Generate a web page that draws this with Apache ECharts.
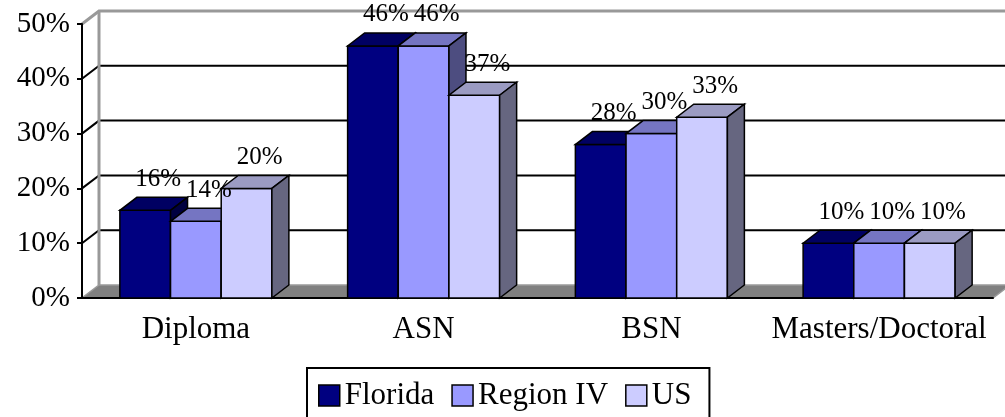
<!DOCTYPE html>
<html>
<head>
<meta charset="utf-8">
<script src="https://cdn.jsdelivr.net/npm/echarts@6/dist/echarts.min.js"></script>
<style>
html,body{margin:0;padding:0;background:#fff;}
#chart{width:1005px;height:417px;}
</style>
</head>
<body>
<div id="chart"></div>
<script>
// ---- data ----
const categories = ['Diploma', 'ASN', 'BSN', 'Masters/Doctoral'];
const seriesNames = ['Florida', 'Region IV', 'US'];
const florida = [16, 46, 28, 10];
const regionIV = [14, 46, 30, 10];
const us = [20, 37, 33, 10];
const yTicks = [0, 10, 20, 30, 40, 50];

// ---- styling ----
const FONT = "'Liberation Serif', 'Times New Roman', serif";
const DX = 17, DY = -13; // 3D depth offset
const faceColors = [
  { front: '#000080', top: '#000062', side: '#000040' },
  { front: '#9999FF', top: '#7575C2', side: '#4D4D80' },
  { front: '#CCCCFF', top: '#9B9BC2', side: '#666680' }
];
const Y_MAX = yTicks[yTicks.length - 1];

function wallItem(params, api) {
  const v = api.value(1);
  const cs = params.coordSys;
  const xl = cs.x, xr = cs.x + cs.width;
  const y = api.coord([0, v])[1];
  const y0 = api.coord([0, 0])[1];
  const children = [];
  if (v === 0) {
    children.push({
      type: 'polygon',
      shape: { points: [[xl, y], [xr, y], [xr + DX, y + DY], [xl + DX, y + DY]] },
      style: { fill: '#808080', stroke: '#9a9a9a', lineWidth: 1.5 }
    });
  } else {
    const isTop = v === Y_MAX;
    children.push({
      type: 'polyline',
      shape: { points: [[xl, y], [xl + DX, y + DY], [xr + DX + 5, y + DY]] },
      style: { fill: null, stroke: isTop ? '#999999' : '#000000', lineWidth: isTop ? 3 : 2 }
    });
    if (isTop) {
      children.push({
        type: 'line',
        shape: { x1: xl + DX, y1: y + DY, x2: xl + DX, y2: y0 + DY },
        style: { stroke: '#999999', lineWidth: 3 }
      });
    }
  }
  return { type: 'group', children: children };
}

function makeBarRender(k) {
  return function (params, api) {
    const ci = api.value(0), v = api.value(1);
    const base = api.coord([ci, 0]);
    const top = api.coord([ci, v]);
    const band = api.size([1, 0])[0];
    const bw = band * 0.2225;
    const x0 = base[0] - 1.5 * bw + k * bw;
    const x1 = x0 + bw;
    const yb = base[1], yt = top[1];
    const c = faceColors[k];
    const st = { stroke: '#000', lineWidth: 1.5, lineJoin: 'miter' };
    return {
      type: 'group',
      children: [
        { type: 'rect', shape: { x: x0, y: yt, width: bw, height: yb - yt },
          style: Object.assign({ fill: c.front }, st) },
        { type: 'polygon', shape: { points: [[x0, yt], [x1, yt], [x1 + DX, yt + DY], [x0 + DX, yt + DY]] },
          style: Object.assign({ fill: c.top }, st) },
        { type: 'polygon', shape: { points: [[x1, yt], [x1 + DX, yt + DY], [x1 + DX, yb + DY], [x1, yb]] },
          style: Object.assign({ fill: c.side }, st) },
        { type: 'text', z2: 100,
          style: { text: Math.round(v) + '%', x: (x0 + x1) / 2 + 13, y: yt - 31,
                   align: 'center', verticalAlign: 'middle',
                   fontSize: 25, fontFamily: FONT, fill: '#000' } }
      ]
    };
  };
}

const valueSets = [florida, regionIV, us];
const barSeries = valueSets.map(function (vals, k) {
  return {
    name: seriesNames[k],
    type: 'custom',
    z: 2,
    itemStyle: { color: faceColors[k].front },
    renderItem: makeBarRender(k),
    data: vals.map(function (v, i) { return [i, v]; })
  };
});

const chart = echarts.init(document.getElementById('chart'), null, { renderer: 'canvas' });
chart.setOption({
  animation: false,
  backgroundColor: '#ffffff',
  grid: { left: 82, right: 12, top: 24, bottom: 119, containLabel: false },
  legend: {
    data: seriesNames,
    left: 307, top: 368,
    orient: 'horizontal',
    icon: 'rect',
    itemWidth: 21, itemHeight: 21, itemGap: 17,
    padding: [12, 18, 30, 11],
    borderColor: '#000', borderWidth: 2,
    itemStyle: { borderColor: '#000', borderWidth: 1.5 },
    textStyle: { fontSize: 31, fontFamily: FONT, color: '#000' }
  },
  xAxis: {
    type: 'category',
    data: categories,
    boundaryGap: true,
    axisLine: { lineStyle: { color: '#000', width: 2 } },
    axisTick: { length: 6, lineStyle: { color: '#000', width: 2 } },
    axisLabel: { interval: 0, hideOverlap: false, fontSize: 31, fontFamily: FONT, color: '#000', margin: 16 },
    splitLine: { show: false }
  },
  yAxis: {
    type: 'value',
    min: 0, max: Y_MAX, interval: 10,
    axisLine: { show: true, lineStyle: { color: '#000', width: 2 } },
    axisTick: { show: true, length: 5, lineStyle: { color: '#000', width: 2 } },
    axisLabel: { formatter: '{value}%', fontSize: 29, fontFamily: FONT, color: '#000', margin: 12 },
    splitLine: { show: false }
  },
  series: [{
    name: 'walls',
    type: 'custom',
    z: -1,
    silent: true,
    renderItem: wallItem,
    data: yTicks.map(function (v) { return [0, v]; })
  }].concat(barSeries)
});
</script>
</body>
</html>
